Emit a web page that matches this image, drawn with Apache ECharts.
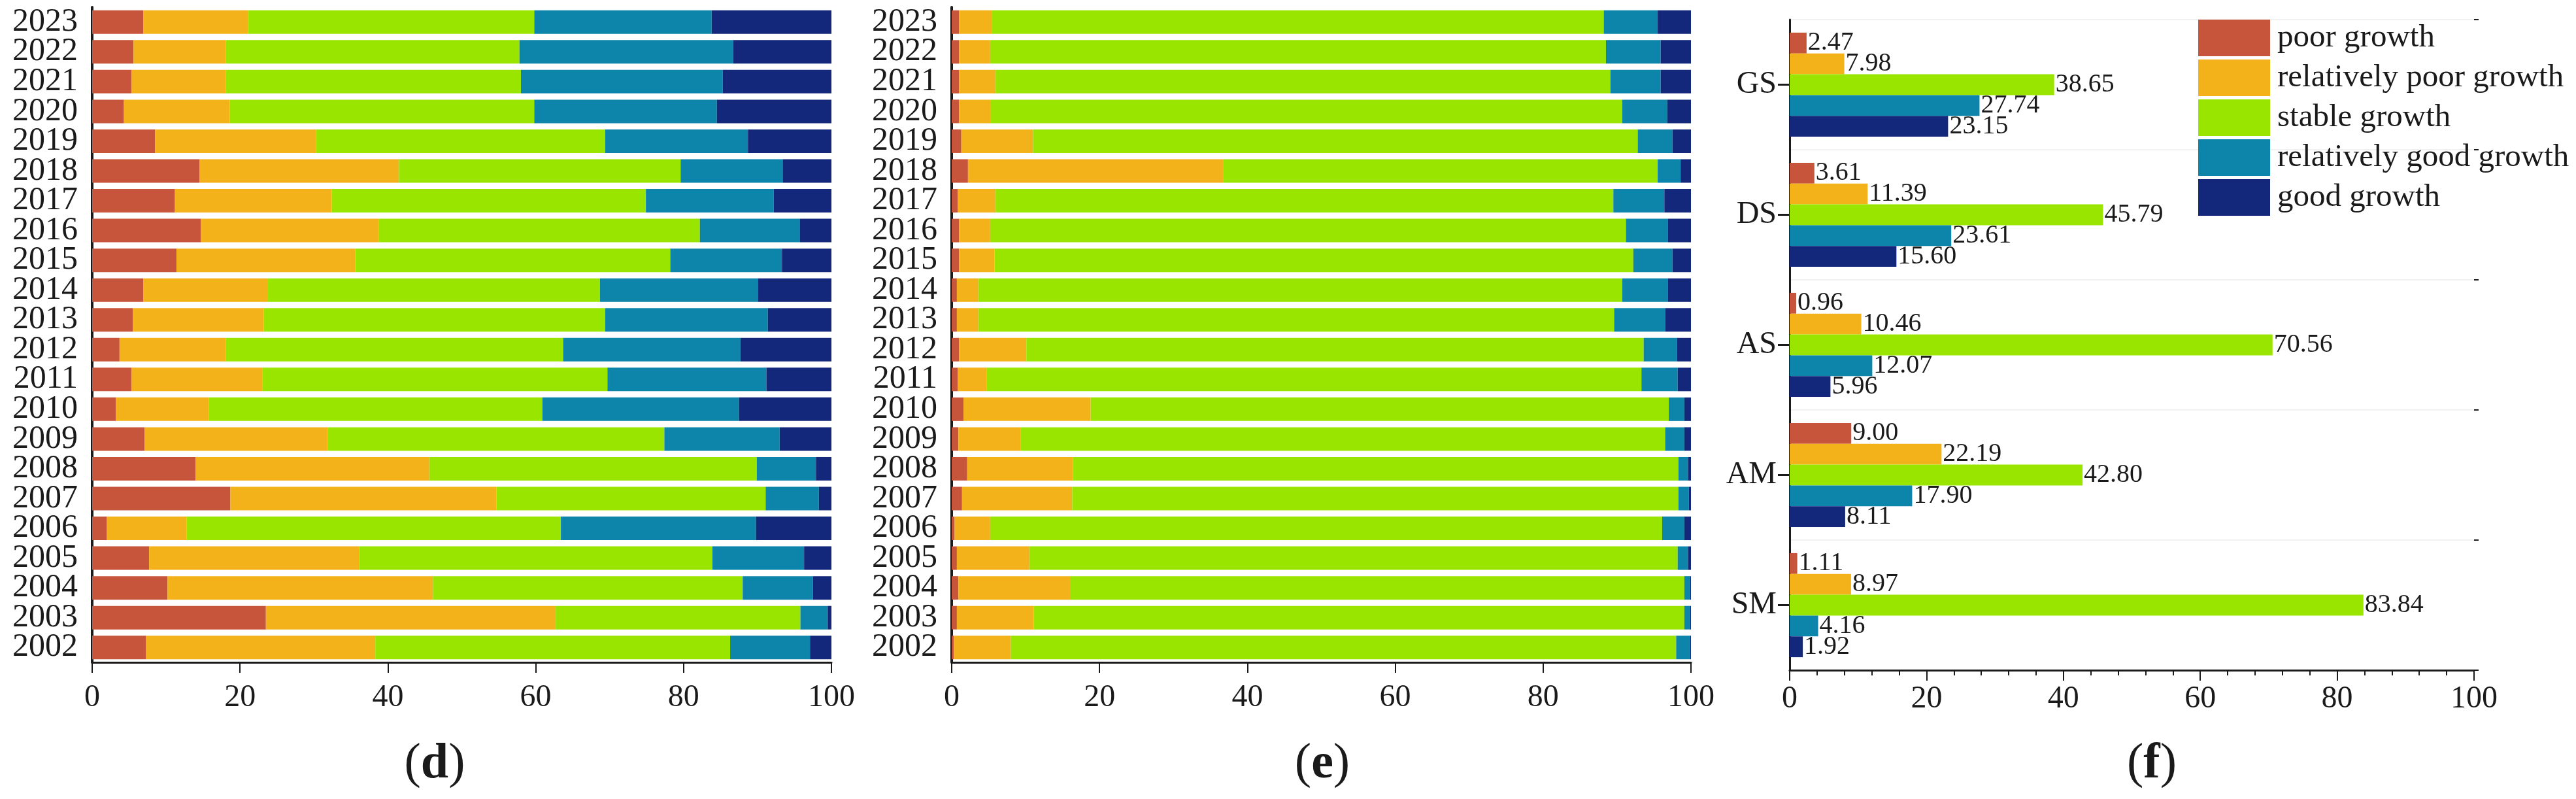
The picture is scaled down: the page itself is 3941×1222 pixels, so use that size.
<!DOCTYPE html>
<html><head><meta charset="utf-8">
<script src="https://cdn.jsdelivr.net/npm/echarts@6/dist/echarts.min.js"></script>
<style>html,body{margin:0;padding:0;background:#fff}#c{width:3941px;height:1222px}</style>
</head><body><div id="c"></div>
<script>
// ---------- data ----------
const years = ['2002','2003','2004','2005','2006','2007','2008','2009','2010','2011','2012','2013','2014','2015','2016','2017','2018','2019','2020','2021','2022','2023'];
const seriesNames = ['poor growth','relatively poor growth','stable growth','relatively good growth','good growth'];

// panel (d)
const dPoor    = [7.3,23.5,10.2,7.7,2.0,18.7,14.0,7.1,3.2,5.3,3.7,5.5,6.9,11.4,14.7,11.2,14.5,8.5,4.3,5.3,5.6,6.9];
const dRelPoor = [31.0,39.2,35.9,28.4,10.8,36.0,31.6,24.8,12.6,17.7,14.4,17.7,16.8,24.2,24.1,21.2,27.0,21.8,14.3,12.8,12.5,14.2];
const dStable  = [48.0,33.1,41.9,47.8,50.6,36.4,44.3,45.5,45.1,46.7,45.6,46.2,45.0,42.6,43.4,42.5,38.1,39.1,41.2,39.9,39.7,38.7];
const dRelGood = [10.8,3.7,9.5,12.4,26.4,7.2,8.0,15.6,26.6,21.5,24.0,22.0,21.4,15.1,13.5,17.3,13.8,19.3,24.7,27.3,28.9,24.0];
const dGood    = [2.9,0.5,2.5,3.7,10.2,1.7,2.1,7.0,12.5,8.8,12.3,8.6,9.9,6.7,4.3,7.8,6.6,11.3,15.5,14.7,13.3,16.2];

// panel (e)
const ePoor    = [0.3,0.7,0.9,0.7,0.4,1.4,2.1,0.9,1.6,0.8,1.0,0.7,0.7,1.0,1.0,0.8,2.2,1.3,1.0,1.0,1.0,1.0];
const eRelPoor = [7.7,10.4,15.1,9.8,4.8,14.9,14.3,8.4,17.2,3.9,9.1,2.9,2.9,4.8,4.2,5.1,34.5,9.7,4.3,4.9,4.2,4.4];
const eStable  = [90.0,88.0,83.1,87.7,90.9,82.0,81.9,87.2,78.2,88.6,83.5,86.0,87.1,86.4,86.0,83.6,58.8,81.8,85.4,83.2,83.3,82.8];
const eRelGood = [1.9,0.8,0.8,1.4,3.0,1.4,1.3,2.6,2.1,4.9,4.5,6.9,6.2,5.3,5.7,6.9,3.1,4.7,6.1,6.8,7.4,7.3];
const eGood    = [0.1,0.1,0.1,0.4,0.9,0.3,0.4,0.9,0.9,1.8,1.9,3.5,3.1,2.5,3.1,3.6,1.4,2.5,3.2,4.1,4.1,4.5];

// panel (f)
const fCategories = ['GS','DS','AS','AM','SM'];
const fPoor    = [2.47,3.61,0.96,9.00,1.11];
const fRelPoor = [7.98,11.39,10.46,22.19,8.97];
const fStable  = [38.65,45.79,70.56,42.80,83.84];
const fRelGood = [27.74,23.61,12.07,17.90,4.16];
const fGood    = [23.15,15.60,5.96,8.11,1.92];

const panelLabels = ['d','e','f'];

// ---------- styling ----------
const colors = ['#C7553B','#F4B21A','#9AE500','#0D85AA','#13287B'];
const FONT = "'Liberation Serif','Times New Roman',serif";
const INK = '#1a1a1a';

const chart = echarts.init(document.getElementById('c'), null, {renderer:'canvas'});

function valueAxis(gridIndex, margin, minor){
  return {
    type:'value', gridIndex, min:0, max:100, interval:20,
    axisLine:{show:true, lineStyle:{color:INK, width:3}},
    axisTick:{show:true, length:16, lineStyle:{color:INK, width:2}},
    minorTick: minor ? {show:true, splitNumber:5, length:8, lineStyle:{color:INK, width:2}} : {show:false},
    splitLine:{show:false},
    axisLabel:{fontFamily:FONT, fontSize:48, color:INK, margin}
  };
}
function yearAxis(gridIndex){
  return {
    type:'category', gridIndex, data:years,
    axisLine:{show:true, lineStyle:{color:INK, width:4}},
    axisTick:{show:false},
    axisLabel:{fontFamily:FONT, fontSize:50, color:INK, margin:22, interval:0}
  };
}

const dSets = [dPoor,dRelPoor,dStable,dRelGood,dGood];
const eSets = [ePoor,eRelPoor,eStable,eRelGood,eGood];
const fSets = [fPoor,fRelPoor,fStable,fRelGood,fGood];

const series = [];
dSets.forEach((arr,i)=>series.push({
  name:seriesNames[i], type:'bar', stack:'d', xAxisIndex:0, yAxisIndex:0,
  data:arr, barCategoryGap:'21%', itemStyle:{color:colors[i]}
}));
eSets.forEach((arr,i)=>series.push({
  name:seriesNames[i], type:'bar', stack:'e', xAxisIndex:1, yAxisIndex:1,
  data:arr, barCategoryGap:'21%', itemStyle:{color:colors[i]}
}));
fSets.forEach((arr,i)=>series.push({
  name:seriesNames[i], type:'bar', xAxisIndex:2, yAxisIndex:2,
  data:arr, barCategoryGap:'20%', barGap:'0%', itemStyle:{color:colors[i]},
  label:{show:true, position:'right', distance:2, fontFamily:FONT, fontSize:40, color:INK,
         formatter:p=>Number(p.value).toFixed(2)}
}));

const labelPos = [[665,1169],[2023,1169],[3292,1169]];
const graphic = panelLabels.map((t,i)=>({
  type:'text', x:labelPos[i][0], y:labelPos[i][1],
  style:{
    text:'{p|(}{b|'+t+'}{p|)}', align:'center', verticalAlign:'middle',
    rich:{p:{fontFamily:FONT, fontSize:76, fill:INK}, b:{fontFamily:FONT, fontSize:76, fontWeight:'bold', fill:INK}}
  }
}));

chart.setOption({
  animation:false,
  backgroundColor:'#ffffff',
  grid:[
    {left:141, top:11, width:1131, height:1002},
    {left:1456, top:11, width:1131, height:1002},
    {left:2738, top:30, width:1047, height:995}
  ],
  xAxis:[ valueAxis(0,30,false), valueAxis(1,30,false), valueAxis(2,20,true) ],
  yAxis:[
    yearAxis(0), yearAxis(1),
    {type:'category', gridIndex:2, data:fCategories, inverse:true,
     axisLine:{show:true, lineStyle:{color:INK, width:3}},
     axisTick:{show:true, alignWithLabel:true, length:18, lineStyle:{color:INK, width:3}},
     axisLabel:{fontFamily:FONT, fontSize:48, color:INK, margin:20}},
    {type:'category', gridIndex:2, data:fCategories, inverse:true,
     axisLine:{show:false},
     axisTick:{show:true, length:7, lineStyle:{color:INK, width:2}},
     axisLabel:{show:false},
     splitLine:{show:true, lineStyle:{color:'#f1f1f1', width:2}}}
  ],
  legend:{
    orient:'vertical', left:3358, top:25, itemWidth:110, itemHeight:56, itemGap:5,
    icon:'rect', selectedMode:false, data:seriesNames,
    textStyle:{fontFamily:FONT, fontSize:49, color:INK, padding:[0,0,0,6]}
  },
  graphic,
  series
});
</script>
</body></html>
